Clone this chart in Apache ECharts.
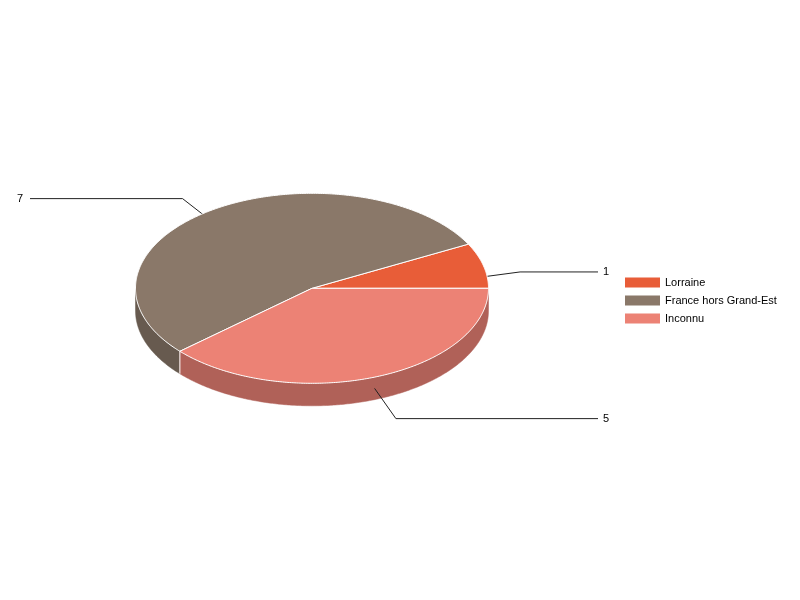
<!DOCTYPE html>
<html>
<head>
<meta charset="utf-8">
<script src="https://cdn.jsdelivr.net/npm/echarts@6/dist/echarts.min.js"></script>
<style>
  html, body { margin: 0; padding: 0; background: #fff; }
  #chart { width: 800px; height: 600px; }
</style>
</head>
<body>
<div id="chart"></div>
<script>
  /* ---- Data ---- */
  const categories = ["Lorraine", "France hors Grand-Est", "Inconnu"];
  const values = [1, 7, 5];
  const topColors = ["#E85D38", "#8A7869", "#EC8275"];
  const sideColors = ["#A8432A", "#675A4F", "#B06158"];

  /* ---- Pie geometry (3D look) ---- */
  const CX = 312, CY = 288.3, RX = 176.5, RY = 95, DEPTH = 22.5;
  const FONT = "11px 'Liberation Sans', Arial, sans-serif";
  const total = values.reduce((a, b) => a + b, 0);
  const startOf = i => values.slice(0, i).reduce((a, b) => a + b, 0) / total * Math.PI * 2;
  const endOf = i => startOf(i) + values[i] / total * Math.PI * 2;
  const pt = (t, dy) => [CX + RX * Math.cos(t), CY - RY * Math.sin(t) + (dy || 0)];

  function arc(t0, t1, dy) {
    const n = Math.max(2, Math.ceil(Math.abs(t1 - t0) / 0.01));
    const pts = [];
    for (let k = 0; k <= n; k++) pts.push(pt(t0 + (t1 - t0) * k / n, dy));
    return pts;
  }

  function topSeries(i) {
    return {
      type: "custom", name: categories[i], coordinateSystem: "none", z: 4,
      data: [values[i]],
      itemStyle: { color: topColors[i] },
      silent: true,
      renderItem: () => ({
        type: "polygon",
        shape: { points: [[CX, CY]].concat(arc(startOf(i), endOf(i), 0)) },
        style: { fill: topColors[i], stroke: "#fff", lineWidth: 1 }
      })
    };
  }

  // visible (front) part of each slice's rim: angles between PI and 2PI
  const sideSeries = {
    type: "custom", coordinateSystem: "none", z: 2, silent: true,
    data: values.map((v, i) => [i, v]),
    renderItem: (p, api) => {
      const i = api.value(0);
      const a = Math.max(startOf(i), Math.PI), b = Math.min(endOf(i), Math.PI * 2);
      const children = [];
      if (b > a) {
        const pts = arc(a, b, 0).concat(arc(b, a, DEPTH));
        children.push({ type: "polygon", shape: { points: pts }, style: { fill: sideColors[i], stroke: sideColors[i], lineWidth: 0.5 } });
      }
      const s = startOf(i);
      if (s > Math.PI && s < Math.PI * 2) {
        const p0 = pt(s, 0), p1 = pt(s, DEPTH);
        children.push({ type: "line", shape: { x1: p0[0], y1: p0[1], x2: p1[0], y2: p1[1] }, style: { stroke: "#fff", lineWidth: 1 }, z2: 5 });
      }
      return { type: "group", children };
    }
  };

  const labelSeries = {
    type: "custom", coordinateSystem: "none", z: 3, silent: true,
    data: values.map((v, i) => [i, v]),
    renderItem: (p, api) => {
      const i = api.value(0);
      const m = (startOf(i) + endOf(i)) / 2;
      const a = pt(m, DEPTH / 2);
      const dx = Math.cos(m), dy = -(RY / RX) * Math.sin(m);
      const len = Math.hypot(dx, dy);
      const e = [a[0] + 37 * dx / len, a[1] + 37 * dy / len];
      const right = dx >= 0;
      const endX = right ? 598 : 30;
      return {
        type: "group",
        children: [
          { type: "polyline", shape: { points: [a, e, [endX, e[1]]] }, style: { stroke: "#222", lineWidth: 1, fill: null } },
          { type: "text", x: right ? endX + 5 : endX - 7, y: e[1],
            style: { text: String(api.value(1)), fill: "#000", font: FONT,
              align: right ? "left" : "right", verticalAlign: "middle" } }
        ]
      };
    }
  };

  const chart = echarts.init(document.getElementById("chart"), null, { renderer: "canvas" });
  chart.setOption({
    backgroundColor: "#fff",
    animation: false,
    legend: {
      orient: "vertical", left: 620, top: 272,
      data: categories.map(c => ({ name: c, icon: "rect" })),
      itemWidth: 35, itemHeight: 10, itemGap: 7,
      selectedMode: false,
      textStyle: { color: "#000", fontSize: 11, fontFamily: "'Liberation Sans', Arial, sans-serif" }
    },
    series: [labelSeries, sideSeries].concat(categories.map((c, i) => topSeries(i)))
  });
</script>
</body>
</html>
